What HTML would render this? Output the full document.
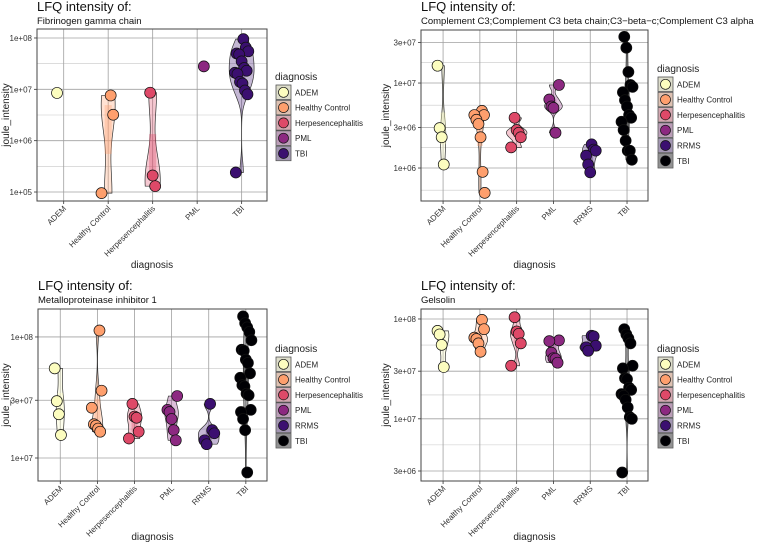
<!DOCTYPE html>
<html><head><meta charset="utf-8"><style>
body{margin:0;background:#fff}
svg{display:block;font-family:"Liberation Sans",sans-serif}
</style></head><body>
<svg id="c" width="760" height="543" xmlns="http://www.w3.org/2000/svg"></svg>
<script>
// ---- data ----
const p1Categories=["ADEM","Healthy Control","Herpesencephalitis","PML","TBI"];
const p1Colors=["#FCFDBF","#FE9F6D","#DE4968","#8C2981","#3B0F70"];
const p1Values=[[8.5e6],[7.6e6,3.2e6,9.5e4],[8.6e6,2.1e5,1.3e5],[2.8e7],
 [9.5e7,6.5e7,5.5e7,5e7,4.8e7,3.5e7,2.6e7,2.3e7,2.1e7,2e7,1.4e7,1.3e7,9.5e6,8e6,2.4e5]];
const p1Ticks=[1e5,1e6,1e7,1e8];
const p1TickLabels=["1e+05","1e+06","1e+07","1e+08"];
const p1Minor=[5.5,6.5,7.5];

const allCategories=["ADEM","Healthy Control","Herpesencephalitis","PML","RRMS","TBI"];
const allColors=["#FCFDBF","#FE9F6D","#DE4968","#8C2981","#3B0F70","#000004"];

const p2Values=[[1.6e7,2.95e6,2.3e6,1.1e6],[4.7e6,4.2e6,4.2e6,3.7e6,3.3e6,2.3e6,9e5,5.1e5],
 [3.9e6,2.8e6,2.6e6,2.3e6,1.75e6],[9.5e6,6.4e6,5.3e6,5.1e6,2.6e6],[1.9e6,1.65e6,1.6e6,1.4e6,1.1e6,8.9e5],
 [3.5e7,2.6e7,1.35e7,9.5e6,9e6,7.8e6,6.3e6,5.3e6,4.2e6,3.9e6,3.5e6,2.8e6,2.1e6,1.6e6,1.6e6,1.25e6]];
const p2Ticks=[1e6,3e6,1e7,3e7];
const p2TickLabels=["1e+06","3e+06","1e+07","3e+07"];
const p2Minor=[5.739,6.239,6.739,7.239];

const p3Values=[[5.5e7,2.95e7,2.3e7,1.55e7],[1.13e8,3.6e7,2.6e7,1.9e7,1.85e7,1.75e7,1.65e7],
 [2.8e7,2.2e7,2.15e7,1.65e7,1.45e7],[3.25e7,2.5e7,2.4e7,2.1e7,1.7e7,1.4e7],[2.8e7,1.7e7,1.6e7,1.4e7,1.3e7],
 [1.48e8,1.3e8,1.2e8,1.1e8,9.4e7,7.85e7,7.7e7,6.5e7,6.1e7,5e7,4.6e7,4e7,3.9e7,3.4e7,3.3e7,2.5e7,2.4e7,2.1e7,1.7e7,7.6e6]];
const p3Ticks=[1e7,3e7,1e8];
const p3TickLabels=["1e+07","3e+07","1e+08"];
const p3Minor=[7.239,7.739];

const p4Values=[[7.6e7,7e7,5.5e7,3.3e7],[9.8e7,7.9e7,6.5e7,6.3e7,5.7e7,4.7e7],
 [1.04e8,7.5e7,7.1e7,5.7e7,3.4e7],[6.1e7,6e7,4.6e7,4.05e7,4e7,3.65e7],[6.8e7,6.7e7,5.4e7,5.2e7,4.8e7],
 [7.9e7,7e7,6.4e7,5.7e7,3.4e7,3.2e7,2.55e7,2.5e7,2.05e7,1.95e7,1.77e7,1.7e7,1.55e7,1.3e7,1.04e7,1e7,2.9e6]];
const p4Ticks=[3e6,1e7,3e7,1e8];
const p4TickLabels=["3e+06","1e+07","3e+07","1e+08"];
const p4Minor=[6.739,7.239,7.739];

// ---- drawing ----
const NS="http://www.w3.org/2000/svg";
const svg=document.getElementById("c");
function el(tag,attrs,parent){const e=document.createElementNS(NS,tag);for(const k in attrs)e.setAttribute(k,attrs[k]);(parent||svg).appendChild(e);return e;}
function txt(s,attrs,parent){const e=el("text",attrs,parent);e.textContent=s;return e;}

function panel(cfg){
  const g=el("g",{});
  
  
  const L=cfg.x0,R=cfg.x1,T=cfg.y0,B=cfg.y1;
  const yS=v=>B-(Math.log10(v)-cfg.lo)/(cfg.hi-cfg.lo)*(B-T);
  const yL=l=>B-(l-cfg.lo)/(cfg.hi-cfg.lo)*(B-T);
  const n=cfg.cats.length, step=(R-L)/(n+0.17);
  const xS=i=>L+step*(0.6+i);
  el("rect",{x:L,y:T,width:R-L,height:B-T,fill:"#fff"},g);
  cfg.minor.forEach(m=>el("line",{x1:L,x2:R,y1:yL(m),y2:yL(m),stroke:"#c8c8c8","stroke-width":0.6},g));
  cfg.ticks.forEach((t,i)=>{
    const y=yS(t);
    el("line",{x1:L,x2:R,y1:y,y2:y,stroke:"#a0a0a0","stroke-width":0.8},g);
    el("line",{x1:L-3,x2:L,y1:y,y2:y,stroke:"#333","stroke-width":0.8},g);
    const lb=txt(cfg.tickLabels[i],{x:L-5,y:y+3,"font-size":8,"text-anchor":"end",fill:"#333"},g);
    
    
  });
  cfg.cats.forEach((c,i)=>{
    const x=xS(i);
    el("line",{x1:x,x2:x,y1:T,y2:B,stroke:"#a0a0a0","stroke-width":0.8},g);
    el("line",{x1:x,x2:x,y1:B,y2:B+3,stroke:"#333","stroke-width":0.8},g);
    const lb=txt(c,{x:0,y:0,"font-size":8,"text-anchor":"end",fill:"#333",transform:`translate(${x+3},${B+8}) rotate(-45)`},g);
    
    
  });
  // violins (area-scaled KDE in log space)
  const dens=[];let gmax=0;
  cfg.vals.forEach((vs,i)=>{
    if(vs.length<2){dens.push(null);return;}
    const ls=vs.map(v=>Math.log10(v)).sort((a,b)=>a-b);
    const m=ls.reduce((a,b)=>a+b)/ls.length;
    const sd=Math.sqrt(ls.reduce((a,b)=>a+(b-m)*(b-m),0)/(ls.length-1));
    const q=p=>{const h=(ls.length-1)*p,lo=Math.floor(h);return ls[lo]+(ls[Math.min(lo+1,ls.length-1)]-ls[lo])*(h-lo);};
    const iqr=(q(.75)-q(.25))/1.34;
    let bw=0.9*(iqr>0?Math.min(sd,iqr):sd)*Math.pow(ls.length,-0.2); if(!(bw>0))bw=0.1;
    const mn=ls[0],mx=ls[ls.length-1],N=50,pts=[];
    for(let k=0;k<=N;k++){const l=mn+(mx-mn)*k/N;let d=0;ls.forEach(a=>d+=Math.exp(-0.5*((l-a)/bw)**2));d/=ls.length*bw*2.5066;pts.push([l,d]);gmax=Math.max(gmax,d);}
    dens.push({pts,q1:q(.25),q3:q(.75)});
  });
  dens.forEach((D,i)=>{
    if(!D)return;
    const hw=step*0.28,x=xS(i),pts=D.pts;
    let dstr="M"+pts.map(p=>`${x+p[1]/gmax*hw},${yL(p[0])}`).join(" L")+" L"+pts.slice().reverse().map(p=>`${x-p[1]/gmax*hw},${yL(p[0])}`).join(" L")+"Z";
    const v=el("path",{d:dstr,fill:cfg.colors[i],"fill-opacity":0.3,stroke:"#333","stroke-width":0.7},g);
    
    
    el("rect",{x:x-step*0.08,y:yL(D.q3),width:step*0.16,height:Math.max(1,yL(D.q1)-yL(D.q3)),fill:cfg.colors[i],"fill-opacity":0.35},g);
  });
  // points
  cfg.vals.forEach((vs,i)=>{
    vs.forEach((v,j)=>{
      const jit=(((j*37+i*11)%17)/16-0.5)*step*0.3;
      const c=el("circle",{cx:xS(i)+jit,cy:yS(v),r:5.5,fill:cfg.colors[i],stroke:"#111","stroke-width":0.7},g);
      
      
    });
  });
  el("rect",{x:L,y:T,width:R-L,height:B-T,fill:"none",stroke:"#444","stroke-width":1},g);
  // titles
  const t1=txt("LFQ intensity of:",{x:L,y:cfg.tY,"font-size":13,fill:"#111"},g);
  
  
  const t2=txt(cfg.sub,{x:L,y:cfg.tY+13,"font-size":9.5,fill:"#111"},g);
  
  
  const xt=txt("diagnosis",{x:(L+R)/2,y:cfg.xtY,"font-size":10,"text-anchor":"middle",fill:"#222"},g);
  
  
  const yt=txt("joule_intensity",{x:0,y:0,"font-size":10,"text-anchor":"middle",fill:"#222",transform:`translate(${cfg.ytX},${(T+B)/2}) rotate(-90)`},g);
  
  
  // legend
  const lg=el("g",{},g);
  
  
  txt("diagnosis",{x:cfg.lx,y:cfg.ly,"font-size":10,fill:"#222"},lg);
  cfg.cats.forEach((c,i)=>{
    const ky=cfg.ly+5+i*15.3;
    const e=el("g",{},lg);
    
    
    el("rect",{x:cfg.lx+1,y:ky,width:15,height:14.5,fill:"#d0d0d0",stroke:"#555","stroke-width":0.8},e);
    el("rect",{x:cfg.lx+1.5,y:ky+0.5,width:14,height:13.5,fill:cfg.colors[i],"fill-opacity":0.3},e);
    el("circle",{cx:cfg.lx+8.5,cy:ky+7.3,r:5,fill:cfg.colors[i],stroke:"#111","stroke-width":0.7},e);
    txt(c,{x:cfg.lx+20,y:ky+10.3,"font-size":8,fill:"#222"},e);
  });
}

panel({name:"panel-fibrinogen",x0:37,x1:267,y0:29,y1:201,lo:4.825,hi:8.175,cats:p1Categories,colors:p1Colors,vals:p1Values,
 ticks:p1Ticks,tickLabels:p1TickLabels,minor:p1Minor,sub:"Fibrinogen gamma chain",tY:11,xtY:268,ytX:9,lx:275,ly:80});
panel({name:"panel-complement-c3",x0:421,x1:648,y0:30,y1:201,lo:5.612,hi:7.624,cats:allCategories,colors:allColors,vals:p2Values,
 ticks:p2Ticks,tickLabels:p2TickLabels,minor:p2Minor,sub:"Complement C3;Complement C3 beta chain;C3\u2212beta\u2212c;Complement C3 alpha",tY:11,xtY:268,ytX:389,lx:657,ly:72});
panel({name:"panel-metalloproteinase",x0:38,x1:267,y0:309,y1:481,lo:6.81,hi:8.231,cats:allCategories,colors:allColors,vals:p3Values,
 ticks:p3Ticks,tickLabels:p3TickLabels,minor:p3Minor,sub:"Metalloproteinase inhibitor 1",tY:290,xtY:540,ytX:9,lx:275,ly:352});
panel({name:"panel-gelsolin",x0:421,x1:648,y0:309,y1:481,lo:6.377,hi:8.1,cats:allCategories,colors:allColors,vals:p4Values,
 ticks:p4Ticks,tickLabels:p4TickLabels,minor:p4Minor,sub:"Gelsolin",tY:290,xtY:540,ytX:389,lx:657,ly:352});
</script>
</body></html>
